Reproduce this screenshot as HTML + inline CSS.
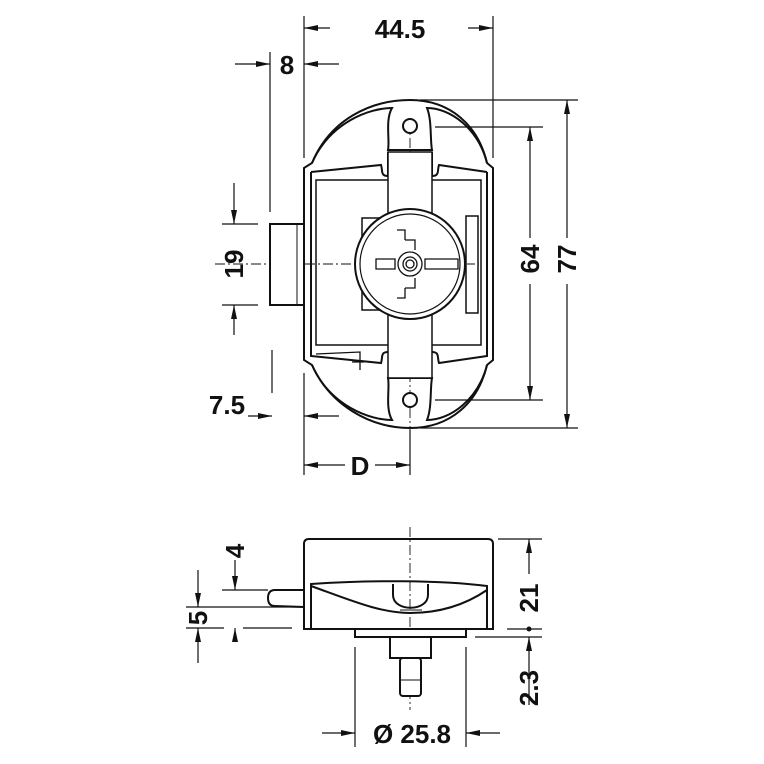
<!DOCTYPE html>
<html><head><style>
html,body{margin:0;padding:0;background:#fff}
svg{display:block}
text{font-family:"Liberation Sans",Arial,sans-serif;font-weight:bold;font-size:26px;fill:#111}
</style></head><body>
<svg width="764" height="764" viewBox="0 0 764 764" xmlns="http://www.w3.org/2000/svg">
<defs>
<marker id="a" viewBox="0 0 14 6" refX="14" refY="3" markerWidth="14" markerHeight="6" orient="auto-start-reverse" markerUnits="userSpaceOnUse"><path d="M0,0 L14,3 L0,6z" fill="#111"/></marker>
</defs>
<g stroke="#111" stroke-width="1.2" fill="none">
<line x1="304" y1="16" x2="304" y2="158"/>
<line x1="493" y1="16" x2="493" y2="158"/>
<line x1="270" y1="52" x2="270" y2="212"/>
<line x1="420" y1="100" x2="578" y2="100"/>
<line x1="420" y1="428" x2="578" y2="428"/>
<line x1="435" y1="127" x2="543" y2="127"/>
<line x1="435" y1="400" x2="543" y2="400"/>
<line x1="222" y1="224" x2="258" y2="224"/>
<line x1="222" y1="305" x2="258" y2="305"/>
<line x1="272" y1="350" x2="272" y2="393"/>
<line x1="304" y1="373" x2="304" y2="475"/>
<line x1="410" y1="430" x2="410" y2="475"/>
<line x1="330" y1="28" x2="304" y2="28" marker-end="url(#a)"/>
<line x1="468" y1="28" x2="493" y2="28" marker-end="url(#a)"/>
<line x1="235" y1="64" x2="270" y2="64" marker-end="url(#a)"/>
<line x1="339" y1="64" x2="304" y2="64" marker-end="url(#a)"/>
<line x1="530" y1="238" x2="530" y2="127" marker-end="url(#a)"/>
<line x1="530" y1="284" x2="530" y2="400" marker-end="url(#a)"/>
<line x1="567" y1="238" x2="567" y2="100" marker-end="url(#a)"/>
<line x1="567" y1="284" x2="567" y2="428" marker-end="url(#a)"/>
<line x1="234" y1="183" x2="234" y2="224" marker-end="url(#a)"/>
<line x1="234" y1="335" x2="234" y2="305" marker-end="url(#a)"/>
<line x1="248" y1="416" x2="272" y2="416" marker-end="url(#a)"/>
<line x1="339" y1="416" x2="304" y2="416" marker-end="url(#a)"/>
<line x1="345" y1="465" x2="304" y2="465" marker-end="url(#a)"/>
<line x1="375" y1="465" x2="410" y2="465" marker-end="url(#a)"/>
<line x1="410" y1="120" x2="410" y2="430" stroke-width="0.9" stroke-dasharray="10,3,2,3"/>
<line x1="215" y1="264" x2="475" y2="264" stroke-width="0.9" stroke-dasharray="10,3,2,3"/>
<g stroke-width="2">
<path d="M304,168 L312,163 C330,120 370,100 410,100 C450,100 478,125 487,163 L493,168 L493,360 L487,365 C478,403 450,428 410,428 C370,428 330,405 312,365 L304,360 Z"/>
<path d="M312,163 C330,122 370,108 392,108 C385,120 390,140 388,150 L432,150 C430,140 432,120 427,108 C450,108 478,128 487,163"/>
<path d="M312,365 C330,406 370,420 392,420 C385,408 390,388 388,378 L432,378 C430,388 432,408 427,420 C450,420 478,400 487,365"/>
<path d="M311,172 L381,165 C383,170 380,176 388,176 L388,152 M432,152 L432,176 C440,176 437,170 439,165 L487,172"/>
<path d="M311,172 L311,356 L381,363 C383,358 380,352 388,352 M432,352 C440,352 437,358 439,363 L487,356 L487,172"/>
<rect x="316" y="180" width="165" height="165" stroke-width="1.5"/>
<rect x="388" y="152" width="44" height="226" stroke-width="1.5" fill="#fff"/>
<rect x="362" y="218" width="20" height="92" stroke-width="1.5" fill="#fff"/>
<circle cx="410" cy="264" r="55" fill="#fff"/>
<circle cx="410" cy="264" r="50" stroke-width="1.2"/>
<rect x="466" y="216" width="12" height="97" stroke-width="1.5"/>
<circle cx="410" cy="126" r="7" fill="#fff"/>
<circle cx="410" cy="400" r="7" fill="#fff"/>
<rect x="270" y="224" width="34" height="81" fill="#fff"/>
<line x1="297" y1="224" x2="297" y2="305" stroke-width="1"/>
</g>
<g stroke-width="1.3">
<path d="M376,259 L395,259 L395,269 L376,269 Z M425,259 L458,259 L458,269 L425,269 Z M405,240 L405,230 L397,230 M405,240 L415,240 L415,250 M405,288 L405,298 L397,298 M405,288 L415,288 L415,278"/>
<circle cx="410" cy="264" r="12" fill="#fff"/>
<circle cx="410" cy="264" r="7"/>
<circle cx="410" cy="264" r="4"/>
<path d="M316,354 L360,352 L360,370 M352,362 L364,362"/>
</g>
<line x1="410" y1="527" x2="410" y2="710" stroke-width="0.9" stroke-dasharray="10,3,2,3"/>
<g stroke-width="2">
<path d="M304,629 L304,544 Q304,539 309,539 L488,539 Q493,539 493,544 L493,629 Z" fill="none"/>
<path d="M311,629 L311,584 C370,580 440,580 487,586 L487,629"/>
<path d="M311,586 C350,600 380,613 410,613 C440,613 465,605 487,590"/>
<path d="M393,584 L393,595 C393,612 428,612 428,595 L428,584"/>
<rect x="355" y="629" width="111" height="8" fill="#fff"/>
<rect x="390" y="637" width="41" height="21" fill="#fff"/>
<rect x="400" y="658" width="21" height="38" rx="3" fill="#fff"/>
<line x1="400" y1="680" x2="421" y2="680" stroke-width="1"/>
<path d="M304,590 L275,590 Q268,590 268,598 Q268,606 275,606 L304,607"/>
</g>
<line x1="400" y1="610" x2="422" y2="610" stroke-width="1"/>
<line x1="498" y1="539" x2="542" y2="539"/>
<line x1="507" y1="629" x2="542" y2="629"/>
<line x1="475" y1="637" x2="542" y2="637"/>
<line x1="529" y1="574" x2="529" y2="539" marker-end="url(#a)"/>
<line x1="529" y1="705" x2="529" y2="637" marker-end="url(#a)"/>
<line x1="355" y1="647" x2="355" y2="747"/>
<line x1="466" y1="647" x2="466" y2="747"/>
<line x1="322" y1="733" x2="355" y2="733" marker-end="url(#a)"/>
<line x1="500" y1="733" x2="466" y2="733" marker-end="url(#a)"/>
<line x1="222" y1="590" x2="268" y2="590"/>
<line x1="235" y1="560" x2="235" y2="590" marker-end="url(#a)"/>
<line x1="186" y1="607" x2="304" y2="607"/>
<line x1="186" y1="628" x2="224" y2="628"/>
<line x1="243" y1="628" x2="292" y2="628"/>
<line x1="198" y1="570" x2="198" y2="607" marker-end="url(#a)"/>
<line x1="198" y1="663" x2="198" y2="628" marker-end="url(#a)"/>
<line x1="235" y1="642" x2="235" y2="628" marker-end="url(#a)"/>
</g>
<circle cx="529" cy="629" r="2.5" fill="#111"/>
<text x="400" y="38" text-anchor="middle">44.5</text>
<text x="287" y="74" text-anchor="middle">8</text>
<text x="227" y="414" text-anchor="middle">7.5</text>
<text x="360" y="475" text-anchor="middle">D</text>
<text transform="translate(243,264) rotate(-90)" text-anchor="middle">19</text>
<text transform="translate(539,259) rotate(-90)" text-anchor="middle">64</text>
<text transform="translate(576,259) rotate(-90)" text-anchor="middle">77</text>
<text transform="translate(538,598) rotate(-90)" text-anchor="middle">21</text>
<text transform="translate(538,688) rotate(-90)" text-anchor="middle">2.3</text>
<text transform="translate(244,551) rotate(-90)" text-anchor="middle">4</text>
<text transform="translate(207,618) rotate(-90)" text-anchor="middle">5</text>
<text x="412" y="743" text-anchor="middle">Ø 25.8</text>
</svg>
</body></html>
